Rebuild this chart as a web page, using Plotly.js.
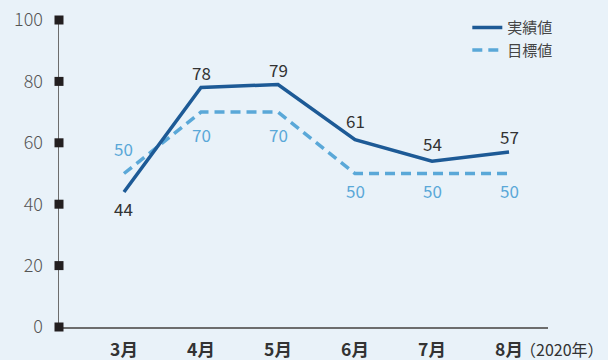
<!DOCTYPE html>
<html>
<head>
<meta charset="utf-8">
<script src="https://cdn.plot.ly/plotly-3.0.1.min.js"></script>
<style>
  html, body { margin: 0; padding: 0; background: #e9f2f9; }
  #chart { width: 608px; height: 360px; }
</style>
</head>
<body>
<div id="chart"></div>
<script>
// Monthly results vs. targets, March–August 2020
const months = ['3月', '4月', '5月', '6月', '7月', '8月'];
const actual = [44, 78, 79, 61, 54, 57];
const target = [50, 70, 70, 50, 50, 50];
const yTicks = [0, 20, 40, 60, 80, 100];

const xRange = [-0.844, 5.506];
const font = '"Noto Sans CJK JP", "Noto Sans", sans-serif';
const actualColor = '#1d5a96';
const targetColor = '#5aa8d8';

// vertical offsets (px) for the value labels: positive = above the point
const actualShift = [-17, 15, 15, 19, 18, 16];
const targetShift = [25, -22, -22, -17, -17, -17];

const traces = [
  {
    x: months, y: target, name: '目標値', type: 'scatter', mode: 'lines',
    line: { color: targetColor, width: 3.5, dash: '10px,6px' },
    cliponaxis: false
  },
  {
    x: months, y: actual, name: '実績値', type: 'scatter', mode: 'lines',
    line: { color: actualColor, width: 3.5 },
    cliponaxis: false
  },
  {
    // square markers on the value axis
    x: yTicks.map(() => 0), y: yTicks, type: 'scatter', mode: 'markers',
    xaxis: 'x2',
    marker: { symbol: 'square', size: 9, color: '#231f20', line: { width: 0 } },
    showlegend: false, hoverinfo: 'skip', cliponaxis: false
  }
];

const labelAnn = (vals, shifts, color) => vals.map((v, i) => ({
  x: months[i], y: v, xref: 'x', yref: 'y',
  text: String(v), showarrow: false, yshift: shifts[i],
  xanchor: 'center', yanchor: 'middle',
  font: { family: font, size: 17, color: color }
}));

const layout = {
  width: 608, height: 360,
  margin: { l: 59, r: 60, t: 19, b: 33 },
  paper_bgcolor: '#e9f2f9', plot_bgcolor: '#e9f2f9',
  font: { family: font, color: '#333333' },
  showlegend: true,
  legend: {
    x: 0.835, y: 1.025, xanchor: 'left', yanchor: 'top',
    bgcolor: 'rgba(0,0,0,0)', traceorder: 'reversed',
    font: { family: font, size: 15, color: '#444444' },
    itemwidth: 30, tracegroupgap: 0
  },
  xaxis: {
    type: 'category', range: xRange,
    showgrid: false, zeroline: false,
    showline: true, linecolor: '#6d6d6d', linewidth: 1.5,
    layer: 'below traces',
    ticks: 'outside', ticklen: 6, tickcolor: 'rgba(0,0,0,0)',
    tickfont: { family: font, size: 17.5, color: '#333333', weight: 'bold' },
    fixedrange: true
  },
  xaxis2: {
    overlaying: 'x', range: [0, 1], visible: false, fixedrange: true
  },
  yaxis: {
    range: [0, 100], tickvals: yTicks,
    showgrid: false, zeroline: false,
    showline: true, linecolor: '#6d6d6d', linewidth: 1.5,
    layer: 'below traces',
    ticks: 'outside', ticklen: 11, tickcolor: 'rgba(0,0,0,0)',
    tickfont: { family: font, size: 18, color: '#555555', weight: 300 },
    fixedrange: true
  },
  annotations: [
    ...labelAnn(target, targetShift, targetColor),
    ...labelAnn(actual, actualShift, '#333333'),
    {
      text: '（2020年）', xref: 'paper', yref: 'paper',
      x: 1.0, y: 0, xanchor: 'left', yanchor: 'middle', xshift: -30, yshift: -22,
      showarrow: false, font: { family: font, size: 16, color: '#333333' }
    }
  ]
};

Plotly.newPlot('chart', traces, layout, { displayModeBar: false, staticPlot: true });
</script>
</body>
</html>
